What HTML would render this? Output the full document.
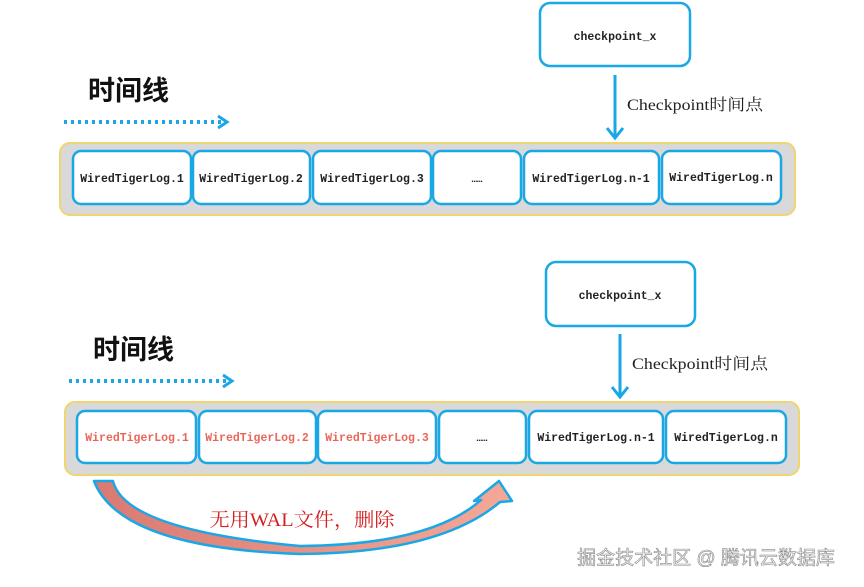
<!DOCTYPE html>
<html><head><meta charset="utf-8"><style>body{margin:0;background:#fff}svg{display:block}</style></head>
<body>
<svg width="864" height="587" viewBox="0 0 864 587" xmlns="http://www.w3.org/2000/svg">
<defs>
<linearGradient id="g" x1="0" x2="1" y1="0" y2="0"><stop offset="0" stop-color="#d97a72"/><stop offset="1" stop-color="#f5a898"/></linearGradient>
</defs>
<g font-family="Liberation Mono, monospace" font-weight="bold" font-size="11.5" text-anchor="middle">
<!-- TOP -->
<rect x="540" y="3" width="150" height="63" rx="10" fill="#fff" stroke="#1aa7e6" stroke-width="2.5"/>
<text x="615" y="40" fill="#222">checkpoint_x</text>
<line x1="615" y1="75" x2="615" y2="136" stroke="#1aa7e6" stroke-width="3"/>
<polyline points="607,128 615,138 623,128" fill="none" stroke="#1aa7e6" stroke-width="3"/>
<text x="627" y="110" text-anchor="start" font-family="Liberation Serif, Noto Serif CJK SC, serif" font-weight="normal" font-size="16" fill="#222" textLength="136" lengthAdjust="spacingAndGlyphs">Checkpoint时间点</text>
<text x="88" y="100" text-anchor="start" font-family="Liberation Sans, Noto Sans CJK SC, sans-serif" font-weight="bold" font-size="27" fill="#111">时间线</text>
<line x1="64" y1="122" x2="222" y2="122" stroke="#1aa7e6" stroke-width="4" stroke-dasharray="3,4"/>
<polyline points="218,116 227,122 218,128" fill="none" stroke="#1aa7e6" stroke-width="3"/>
<rect x="60" y="143" width="735" height="72" rx="10" fill="#d9d9d9" stroke="#f0d470" stroke-width="2"/>
<g fill="#fff" stroke="#1aa7e6" stroke-width="2.5">
<rect x="73" y="151" width="118" height="53" rx="8"/>
<rect x="193" y="151" width="117" height="53" rx="8"/>
<rect x="313" y="151" width="118" height="53" rx="8"/>
<rect x="433" y="151" width="88" height="53" rx="8"/>
<rect x="524" y="151" width="135" height="53" rx="8"/>
<rect x="662" y="151" width="119" height="53" rx="8"/>
</g>
<g fill="#222">
<text x="132" y="182">WiredTigerLog.1</text>
<text x="251" y="182">WiredTigerLog.2</text>
<text x="372" y="182">WiredTigerLog.3</text>
<text x="477" y="182" font-size="9">……</text>
<text x="591" y="182">WiredTigerLog.n-1</text>
<text x="721" y="181">WiredTigerLog.n</text>
</g>
<!-- BOTTOM -->
<rect x="546" y="262" width="149" height="64" rx="10" fill="#fff" stroke="#1aa7e6" stroke-width="2.5"/>
<text x="620" y="299" fill="#222">checkpoint_x</text>
<line x1="620" y1="334" x2="620" y2="395" stroke="#1aa7e6" stroke-width="3"/>
<polyline points="612,387 620,397 628,387" fill="none" stroke="#1aa7e6" stroke-width="3"/>
<text x="632" y="369" text-anchor="start" font-family="Liberation Serif, Noto Serif CJK SC, serif" font-weight="normal" font-size="16" fill="#222" textLength="136" lengthAdjust="spacingAndGlyphs">Checkpoint时间点</text>
<text x="93" y="359" text-anchor="start" font-family="Liberation Sans, Noto Sans CJK SC, sans-serif" font-weight="bold" font-size="27" fill="#111">时间线</text>
<line x1="69" y1="381" x2="227" y2="381" stroke="#1aa7e6" stroke-width="4" stroke-dasharray="3,4"/>
<polyline points="223,375 232,381 223,387" fill="none" stroke="#1aa7e6" stroke-width="3"/>
<rect x="65" y="402" width="734" height="73" rx="10" fill="#d9d9d9" stroke="#f0d470" stroke-width="2"/>
<g fill="#fff" stroke="#1aa7e6" stroke-width="2.5">
<rect x="77" y="411" width="119" height="52" rx="8"/>
<rect x="199" y="411" width="117" height="52" rx="8"/>
<rect x="318" y="411" width="118" height="52" rx="8"/>
<rect x="439" y="411" width="87" height="52" rx="8"/>
<rect x="529" y="411" width="134" height="52" rx="8"/>
<rect x="666" y="411" width="120" height="52" rx="8"/>
</g>
<g>
<text x="137" y="441" fill="#e8675a">WiredTigerLog.1</text>
<text x="257" y="441" fill="#e8675a">WiredTigerLog.2</text>
<text x="377" y="441" fill="#e8675a">WiredTigerLog.3</text>
<text x="482" y="441" font-size="9" fill="#222">……</text>
<text x="596" y="441" fill="#222">WiredTigerLog.n-1</text>
<text x="726" y="441" fill="#222">WiredTigerLog.n</text>
</g>
<path d="M94,481 L113,481 Q125,530 300,546 Q430,545 481,500 L474,501 L499,481 L512,501 L500,502 Q440,553 300,554 Q120,548 94,481 Z" fill="url(#g)" stroke="#1aa7e6" stroke-width="2.5" stroke-linejoin="round"/>
<text x="302" y="526" font-family="Liberation Serif, Noto Serif CJK SC, serif" font-weight="normal" font-size="19" fill="#d42020" textLength="185" lengthAdjust="spacingAndGlyphs">无用WAL文件，删除</text>
<text x="706" y="564" font-family="Liberation Sans, Noto Sans CJK SC, sans-serif" font-weight="normal" font-size="19" fill="#f4f4f4" stroke="#888" stroke-width="0.6">掘金技术社区 @ 腾讯云数据库</text>
</g>
</svg>
</body></html>
